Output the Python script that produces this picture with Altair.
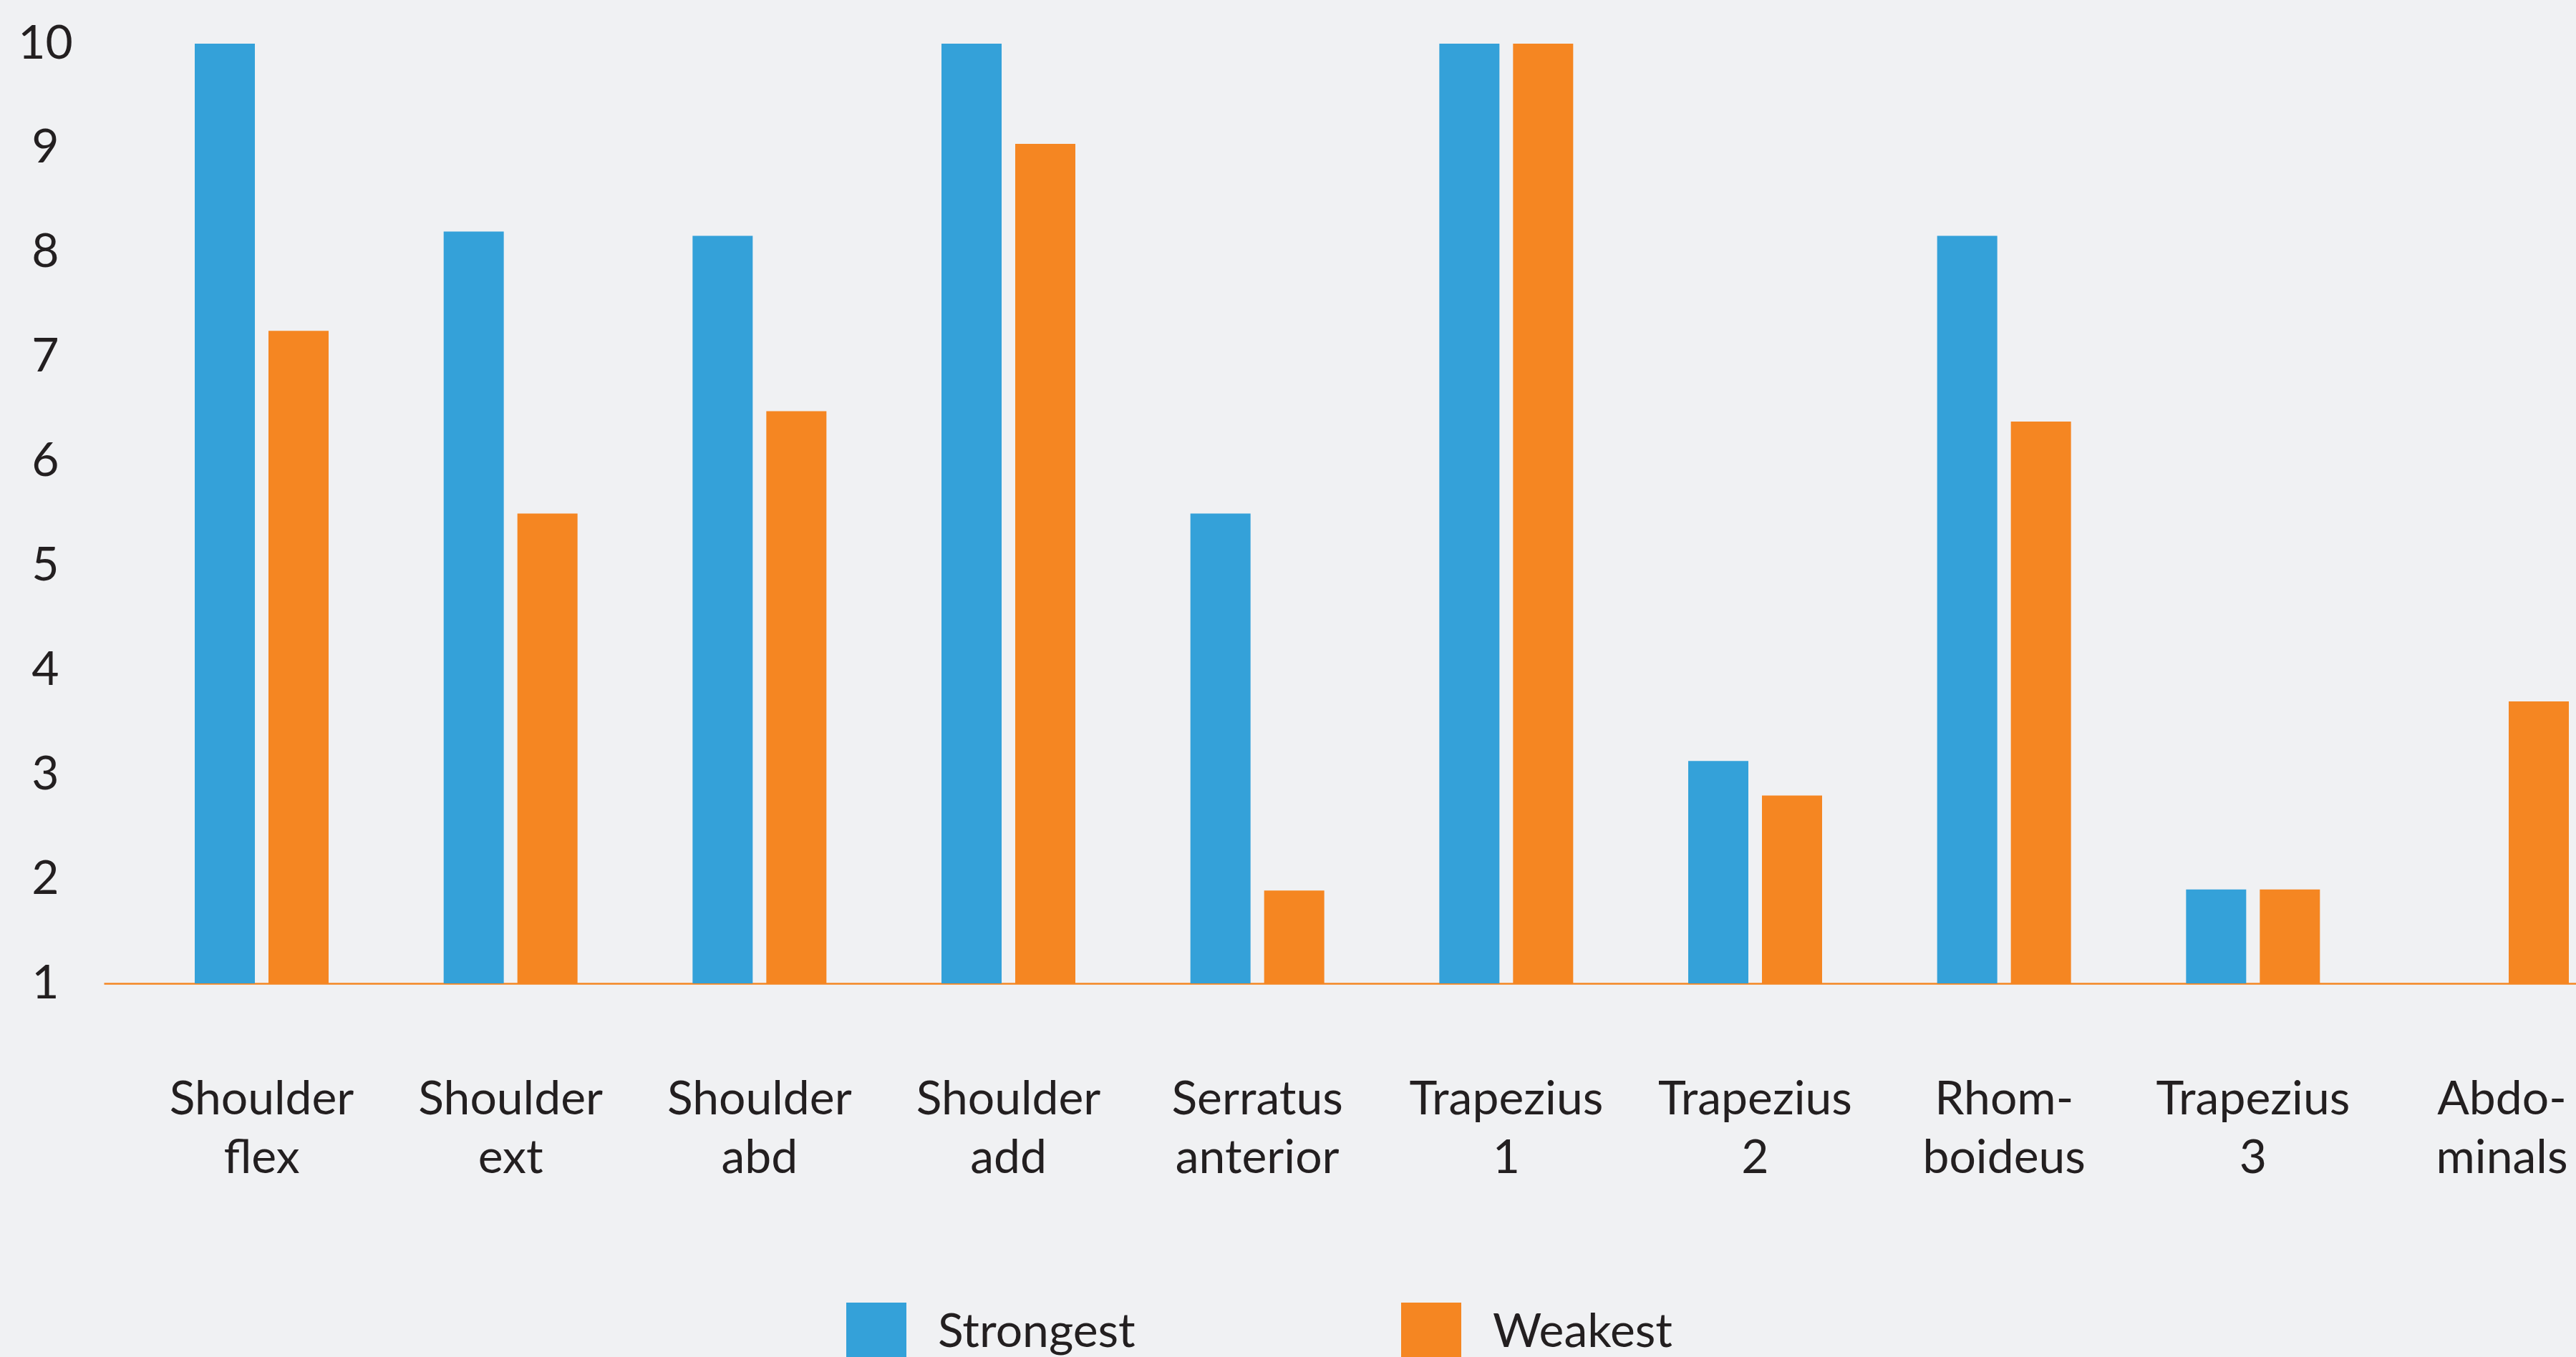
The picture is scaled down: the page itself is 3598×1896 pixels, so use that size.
import altair as alt
import pandas as pd

categories = ["Shoulder flex", "Shoulder ext", "Shoulder abd", "Shoulder add",
              "Serratus anterior", "Trapezius 1", "Trapezius 2", "Rhom- boideus",
              "Trapezius 3", "Abdo- minals"]
strongest = [10, 8.2, 8.16, 10, 5.5, 10, 3.13, 8.16, 1.9, None]
weakest = [7.25, 5.5, 6.48, 9.04, 1.89, 10, 2.8, 6.38, 1.9, 3.7]
series = ["Strongest", "Weakest"]
colors = ["#34A1D9", "#F58622"]
y_ticks = list(range(1, 11))

rows = []
for c, s, w in zip(categories, strongest, weakest):
    rows.append({"muscle": c, "group": "Strongest", "score": s})
    rows.append({"muscle": c, "group": "Weakest", "score": w})
df = pd.DataFrame(rows)

FONT = "Lato"
TEXT = "#231F20"

chart = alt.Chart(df).mark_bar().encode(
    x=alt.X("muscle:N", sort=categories,
            scale=alt.Scale(paddingInner=0.4622, paddingOuter=0.3653, range=[0, 3570]),
            axis=alt.Axis(title=None, labelAngle=0, labelExpr="split(datum.label, ' ')",
                          labelFontSize=66, labelFont=FONT, labelColor=TEXT,
                          labelLineHeight=82, labelPadding=130, ticks=False,
                          domainColor="#F58622", domainWidth=2.5,
                          labelBaseline="top", labelAlign="center", labelLimit=1000)),
    xOffset=alt.XOffset("group:N", sort=series, scale=alt.Scale(paddingInner=0.1845)),
    y=alt.Y("score:Q", scale=alt.Scale(domain=[1, 10], zero=False, nice=False),
            axis=alt.Axis(title=None, values=y_ticks, grid=False, domain=False, ticks=False,
                          labelAlign="center", labelPadding=82, labelFontSize=66,
                          labelFont=FONT, labelColor=TEXT, labelBaseline="middle")),
    y2=alt.datum(1),
    color=alt.Color("group:N", sort=series,
                    scale=alt.Scale(domain=series, range=colors),
                    legend=alt.Legend(title=None, orient="none", direction="horizontal",
                                      legendX=1037, legendY=1759, symbolType="square",
                                      symbolSize=7056, symbolStrokeWidth=0, symbolOpacity=1,
                                      labelFontSize=66, labelFont=FONT, labelColor=TEXT,
                                      labelOffset=44, columnPadding=371, padding=0,
                                      labelLimit=1000)),
).properties(
    width=3453, height=1313, background="#F0F1F3",
    padding={"left": 145, "top": 61, "right": 0, "bottom": 522},
    autosize=alt.AutoSizeParams(type="none"),
).configure_view(stroke=None)

chart.save("out.html", embed_options={"renderer": "svg", "actions": False})
